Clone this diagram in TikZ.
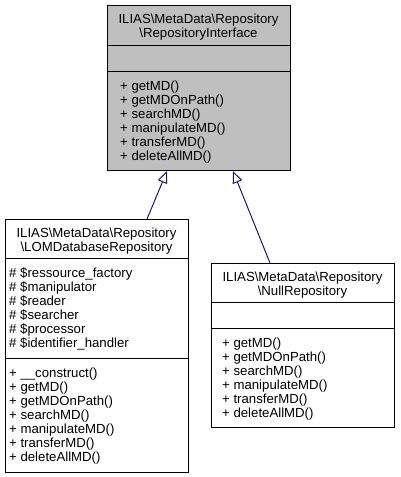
\documentclass[tikz,border=0pt]{standalone}
\usepackage{fontspec}
\setmainfont{Liberation Sans}
\usetikzlibrary{arrows.meta}
\definecolor{boxgray}{HTML}{BFBFBF}
\definecolor{edgeblue}{HTML}{191970}
\begin{document}
\begin{tikzpicture}[x=1pt,y=-1pt,
  umlbox/.style={draw=black,line width=1pt,rectangle,inner sep=0pt,minimum width=183pt,anchor=north west},
  sepline/.style={draw=black,line width=1pt},
  txt/.style={inner sep=0pt,font=\fontsize{13.2}{14}\selectfont},
  inh/.style={draw=edgeblue,line width=1pt,-{Triangle[open,length=12pt,width=10pt]}}]
\useasboundingbox (0,0) rectangle (400,477);
% base class
\node[umlbox,fill=boxgray,minimum height=165pt] (base) at (107,5) {};
\draw[sepline] (107,45) -- (290,45);
\draw[sepline] (107,71) -- (290,71);
\node[txt,anchor=base] (bt1) at (198.5,23) {ILIAS\textbackslash MetaData\textbackslash Repository};
\node[txt,anchor=base] (bt2) at (198.5,37) {\textbackslash RepositoryInterface};
\foreach \t [count=\i] in {getMD(),getMDOnPath(),searchMD(),manipulateMD(),transferMD(),deleteAllMD()}
  \node[txt,anchor=base west] (bm\i) at (120,{76+14*\i}) {+ \t};
% LOM database repository
\node[umlbox,minimum height=253pt] (lom) at (5,219) {};
\draw[sepline] (5,258) -- (188,258);
\draw[sepline] (5,358) -- (188,358);
\node[txt,anchor=base] (lt1) at (96.5,237) {ILIAS\textbackslash MetaData\textbackslash Repository};
\node[txt,anchor=base] (lt2) at (96.5,251) {\textbackslash LOMDatabaseRepository};
\foreach \t [count=\i] in {\$ressource\_factory,\$manipulator,\$reader,\$searcher,\$processor,\$identifier\_handler}
  \node[txt,anchor=base west] (la\i) at (9,{263+14*\i}) {\# \t};
\foreach \t [count=\i] in {\_\_construct(),getMD(),getMDOnPath(),searchMD(),manipulateMD(),transferMD(),deleteAllMD()}
  \node[txt,anchor=base west] (lm\i) at (9,{363+14*\i}) {+ \t};
% Null repository
\node[umlbox,minimum height=164pt] (null) at (211,263) {};
\draw[sepline] (211,302) -- (394,302);
\draw[sepline] (211,328) -- (394,328);
\node[txt,anchor=base] (nt1) at (302.5,281) {ILIAS\textbackslash MetaData\textbackslash Repository};
\node[txt,anchor=base] (nt2) at (302.5,295) {\textbackslash NullRepository};
\foreach \t [count=\i] in {getMD(),getMDOnPath(),searchMD(),manipulateMD(),transferMD(),deleteAllMD()}
  \node[txt,anchor=base west] (nm\i) at (222,{333+14*\i}) {+ \t};
% inheritance connectors
\draw[inh] ([xshift=142pt]lom.north west) -- ([xshift=60pt]base.south west);
\draw[inh] ([xshift=59pt]null.north west) -- ([xshift=126pt]base.south west);
\end{tikzpicture}
\end{document}
